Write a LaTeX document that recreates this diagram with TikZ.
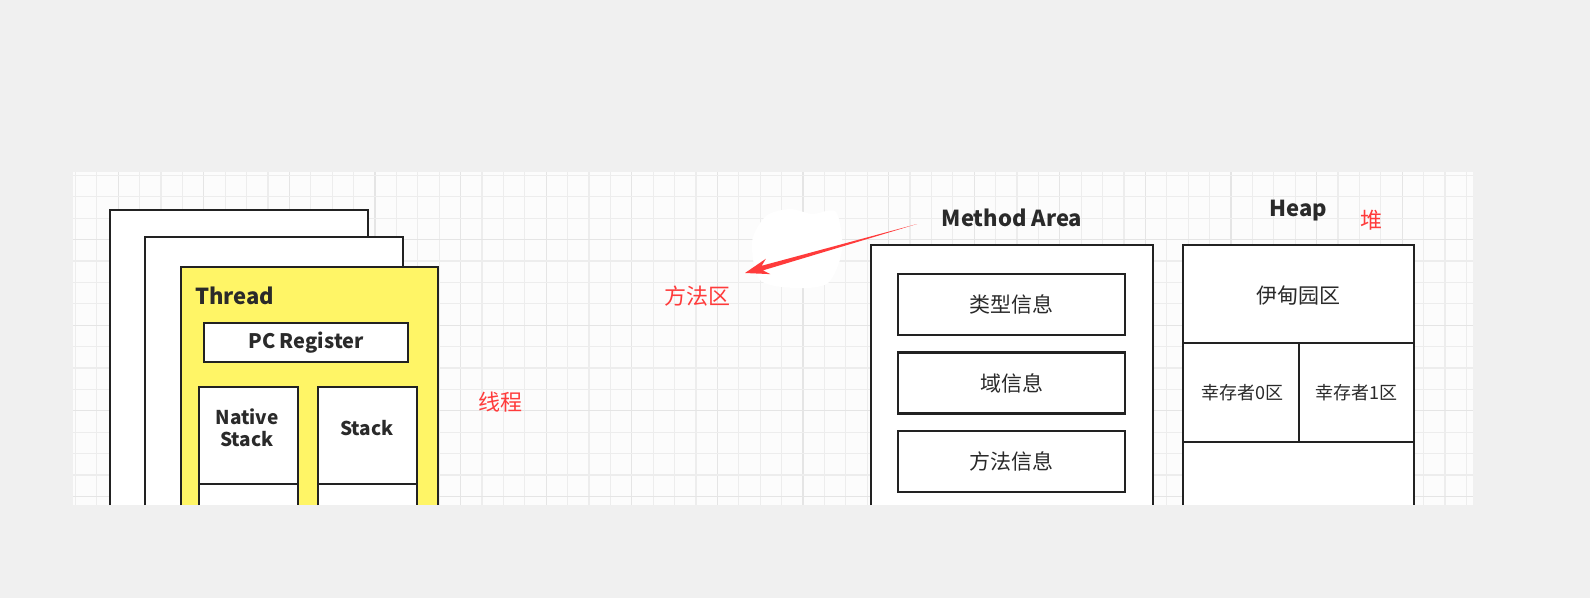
\documentclass[tikz,border=0pt]{standalone}
\usepackage{fontspec}
\setmainfont{Noto Sans CJK SC}
\usetikzlibrary{calc}
\definecolor{bggray}{RGB}{240,240,240}
\definecolor{panelwhite}{RGB}{252,252,252}
\definecolor{gridminor}{RGB}{237,237,237}
\definecolor{gridmajor}{RGB}{229,229,229}
\definecolor{inkgray}{RGB}{34,34,34}
\definecolor{textgray}{RGB}{42,42,42}
\definecolor{threadyellow}{RGB}{255,245,102}
\definecolor{notered}{RGB}{255,59,59}

\begin{document}
\begin{tikzpicture}[x=1pt,y=-1pt,
  areabox/.style={draw=inkgray,line width=2.9pt,fill=white},
  infobox/.style={areabox,minimum width=227pt,minimum height=61pt,inner sep=0pt,
    text=textgray,font=\fontsize{21}{24}\selectfont},
  headtext/.style={inner sep=0pt,text=textgray,font=\fontsize{22}{26}\selectfont\bfseries},
  stacktext/.style={inner sep=0pt,text=textgray,align=center,
    font=\fontsize{19}{22}\selectfont\bfseries},
  celltext/.style={inner sep=0pt,text=textgray,font=\fontsize{18}{22}\selectfont},
  rednote/.style={inner sep=0pt,text=notered,font=\fontsize{22}{26}\selectfont}]
\useasboundingbox (0,0) rectangle (1590,598);
\fill[bggray] (0,0) rectangle (1590,598);

% Grid panel
\fill[panelwhite] (73,172) rectangle (1473,505);
\foreach \i in {0,...,65} {
  \pgfmathtruncatemacro{\m}{mod(\i,4)}
  \ifnum\m=2 \def\gc{gridmajor}\else\def\gc{gridminor}\fi
  \draw[\gc,line width=1.2pt] ({75.3+21.4*\i},172) -- ++(0,333);
}
\foreach \j in {0,...,15} {
  \pgfmathtruncatemacro{\m}{mod(\j,4)}
  \ifnum\m=3 \def\gc{gridmajor}\else\def\gc{gridminor}\fi
  \draw[\gc,line width=1.2pt] (73,{175.3+21.4*\j}) -- ++(1400,0);
}

% Threads (stacked, cut at the bottom)
\filldraw[areabox] (110,505) -- (110,210) -- (368,210) -- (368,505);
\filldraw[areabox] (145,505) -- (145,237) -- (403,237) -- (403,505);
\filldraw[areabox,fill=threadyellow] (181,505) -- (181,267) -- (438,267) -- (438,505);
\node[headtext,anchor=west] (thread) at (195,296) {Thread};
\node[areabox,minimum width=204pt,minimum height=39pt,inner sep=0pt,text=textgray,
  font=\fontsize{20}{24}\selectfont\bfseries] (pcreg) at (306,342.5) {PC Register};
\filldraw[areabox] (199,505) -- (199,387) -- (298,387) -- (298,505);
\draw[areabox] (199,484) -- (298,484);
\filldraw[areabox] (318,505) -- (318,387) -- (417,387) -- (417,505);
\draw[areabox] (318,484) -- (417,484);
\node[stacktext] (nativestack) at (247,428) {Native\\Stack};
\node[stacktext] (stack) at (367,428) {Stack};
\node[rednote] (threadnote) at (500,402) {线程};

% Method area
\filldraw[areabox] (871,505) -- (871,245) -- (1153,245) -- (1153,505);
\node[headtext] (methodarea) at (1012,218) {Method Area};
\node[infobox] (typeinfo) at (1011.5,304.5) {类型信息};
\node[infobox] (fieldinfo) at (1011.5,383) {域信息};
\node[infobox] (methodinfo) at (1011.5,461.5) {方法信息};

% Note pointing away from the method area
\fill[white] plot[smooth cycle] coordinates {(752,242) (766,216) (790,209) (812,214)
  (836,212) (842,250) (828,283) (795,288) (760,280)};
\coordinate (arrowtail) at (917,224);
\coordinate (arrowtip) at (745,273);
\fill[notered] (arrowtail)
  -- ($(arrowtip)!18pt!(arrowtail)!2.4pt!90:(arrowtail)$)
  -- ($(arrowtip)!24pt!(arrowtail)!8pt!90:(arrowtail)$)
  -- (arrowtip)
  -- ($(arrowtip)!24pt!(arrowtail)!8pt!-90:(arrowtail)$)
  -- ($(arrowtip)!18pt!(arrowtail)!2.4pt!-90:(arrowtail)$)
  -- cycle;
\node[rednote] (methodnote) at (697,296) {方法区};

% Heap
\filldraw[areabox] (1183,505) -- (1183,245) -- (1414,245) -- (1414,505);
\draw[areabox] (1183,343) -- (1414,343);
\draw[areabox] (1299,343) -- (1299,442);
\draw[areabox] (1183,442) -- (1414,442);
\node[headtext] (heap) at (1298,211) {Heap};
\node[rednote] (heapnote) at (1371,220) {堆};
\node[infobox,draw=none,fill=none] (eden) at (1298,296) {伊甸园区};
\node[celltext] (survivor0) at (1242,393) {幸存者0区};
\node[celltext] (survivor1) at (1356,393) {幸存者1区};
\end{tikzpicture}
\end{document}
